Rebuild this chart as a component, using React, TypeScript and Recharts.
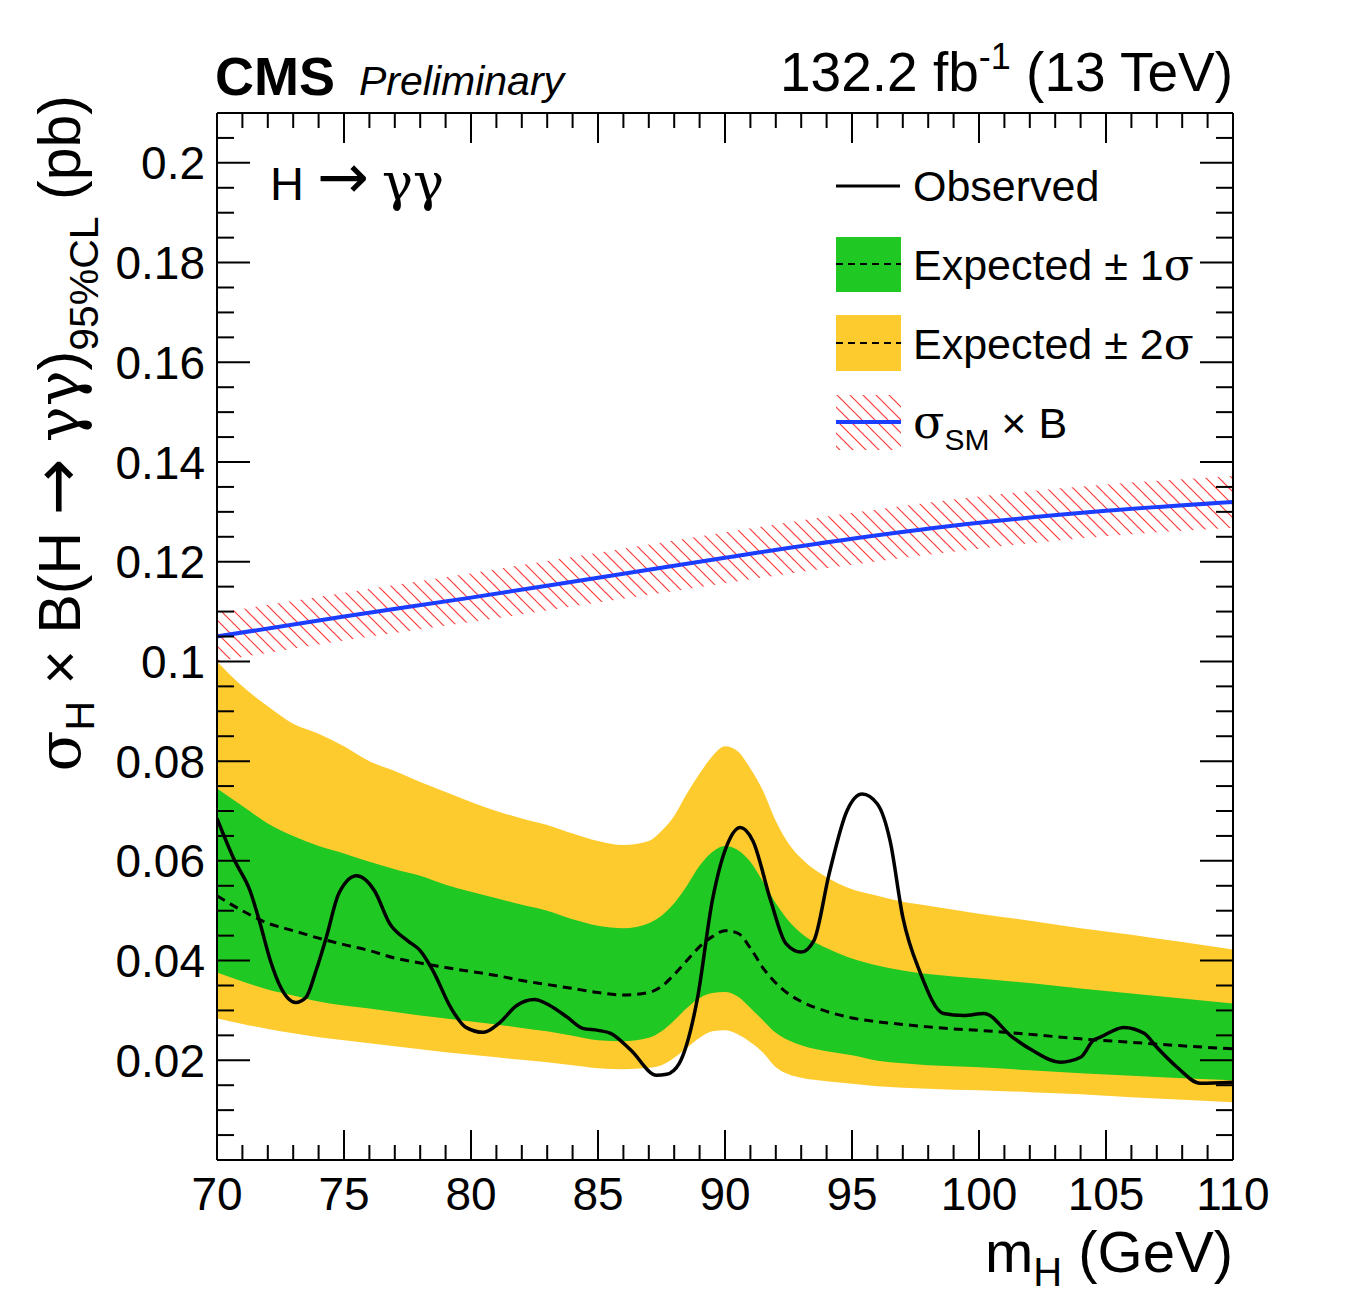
import React from 'react';
import { ComposedChart, Area, Line, XAxis, YAxis } from 'recharts';

// ---------- data ----------
const massGrid = [70, 71, 72, 73, 74, 75, 76, 77, 78, 79, 80, 81, 82, 83, 84, 85, 86, 87, 87.5, 88, 88.5, 89, 89.5, 90, 90.5, 91, 91.5, 92, 92.5, 93, 94, 95, 96, 97, 98, 99, 100, 102, 104, 106, 108, 110];
const expMedian = [0.053, 0.05, 0.0475, 0.046, 0.0445, 0.0432, 0.042, 0.0405, 0.0395, 0.0386, 0.0378, 0.037, 0.036, 0.0352, 0.0344, 0.0336, 0.0331, 0.0336, 0.0348, 0.0372, 0.04, 0.0428, 0.0448, 0.046, 0.0455, 0.0425, 0.0385, 0.0355, 0.0333, 0.0318, 0.0298, 0.0285, 0.0277, 0.0272, 0.0267, 0.0263, 0.026, 0.0252, 0.0243, 0.0236, 0.0229, 0.0223];
const exp1sUp = [0.0745, 0.071, 0.0675, 0.065, 0.063, 0.0615, 0.0598, 0.0583, 0.057, 0.0552, 0.0538, 0.0525, 0.0512, 0.05, 0.0483, 0.047, 0.0465, 0.0475, 0.049, 0.0515, 0.055, 0.059, 0.0618, 0.063, 0.0622, 0.0598, 0.0558, 0.0515, 0.048, 0.0455, 0.0425, 0.0404, 0.039, 0.038, 0.0373, 0.0368, 0.0364, 0.0355, 0.0344, 0.0334, 0.0324, 0.0314];
const exp1sDown = [0.0376, 0.0358, 0.0342, 0.033, 0.0318, 0.031, 0.0304, 0.0297, 0.029, 0.0284, 0.0278, 0.0272, 0.0265, 0.0258, 0.0249, 0.024, 0.0238, 0.0245, 0.0258, 0.028, 0.0305, 0.0325, 0.0335, 0.0337, 0.0328, 0.0305, 0.028, 0.0255, 0.024, 0.023, 0.0218, 0.021, 0.0199, 0.0194, 0.019, 0.0188, 0.0186, 0.018, 0.0174, 0.0169, 0.0164, 0.016];
const exp2sUp = [0.1, 0.095, 0.091, 0.0875, 0.0855, 0.083, 0.08, 0.078, 0.0758, 0.0738, 0.0718, 0.07, 0.0685, 0.0672, 0.0655, 0.064, 0.0632, 0.064, 0.066, 0.069, 0.0735, 0.0775, 0.081, 0.083, 0.082, 0.0785, 0.074, 0.068, 0.0635, 0.0605, 0.0567, 0.0543, 0.053, 0.0518, 0.051, 0.0502, 0.0494, 0.048, 0.0465, 0.0452, 0.0437, 0.0422];
const exp2sDown = [0.0284, 0.0273, 0.0263, 0.0254, 0.0246, 0.024, 0.0234, 0.0228, 0.0222, 0.0216, 0.0211, 0.0206, 0.0201, 0.0196, 0.019, 0.0184, 0.0182, 0.0185, 0.019, 0.0205, 0.0225, 0.0245, 0.0258, 0.026, 0.0252, 0.0236, 0.0215, 0.0186, 0.0172, 0.0165, 0.0158, 0.0153, 0.0148, 0.0145, 0.0143, 0.0141, 0.014, 0.0136, 0.0132, 0.0126, 0.0121, 0.0116];

const obsMass = [70, 70.7, 71.3, 71.7, 72.1, 72.5, 73.1, 73.5, 73.9, 74.3, 74.8, 75.5, 76.2, 76.8, 77.5, 78, 78.5, 79.2, 79.8, 80.5, 81.1, 81.8, 82.5, 83.1, 83.8, 84.4, 85, 85.5, 86.3, 87.3, 87.7, 88.2, 88.9, 89.5, 90.1, 90.6, 91.1, 91.8, 92.4, 93, 93.5, 94.1, 94.8, 95.4, 96, 96.5, 97, 97.7, 98.6, 99.4, 100.2, 101.3, 102.1, 103.2, 104, 104.5, 104.8, 105.7, 106.5, 107, 107.8, 108.7, 110];
const obsLimit = [0.0685, 0.06, 0.054, 0.0474, 0.04, 0.0347, 0.0316, 0.0326, 0.038, 0.0446, 0.0535, 0.057, 0.054, 0.0474, 0.044, 0.042, 0.038, 0.0306, 0.0266, 0.0256, 0.0274, 0.031, 0.0322, 0.031, 0.0286, 0.0264, 0.026, 0.0254, 0.022, 0.017, 0.0172, 0.0194, 0.032, 0.052, 0.0634, 0.0667, 0.064, 0.052, 0.0434, 0.0417, 0.044, 0.0574, 0.07, 0.0734, 0.0714, 0.064, 0.0487, 0.0374, 0.0294, 0.029, 0.0294, 0.0247, 0.022, 0.0196, 0.0206, 0.024, 0.0247, 0.0266, 0.0254, 0.0226, 0.0186, 0.0154, 0.0156];

const smMass = [70, 75, 80, 85, 90, 95, 100, 105, 110];
const smXsec = [0.105, 0.109, 0.1128, 0.1168, 0.1208, 0.1246, 0.1278, 0.1302, 0.132];
const smDown = [0.1, 0.1042, 0.1079, 0.1118, 0.1157, 0.1194, 0.1226, 0.1251, 0.1268];
const smUp = [0.1097, 0.1138, 0.1177, 0.1218, 0.1259, 0.1298, 0.1331, 0.1355, 0.1372];

const xMajorTicks = [70, 75, 80, 85, 90, 95, 100, 105, 110];
const xTickLabels = ['70', '75', '80', '85', '90', '95', '100', '105', '110'];
const yMajorTicks = [0.02, 0.04, 0.06, 0.08, 0.1, 0.12, 0.14, 0.16, 0.18, 0.2];
const yTickLabels = ['0.02', '0.04', '0.06', '0.08', '0.1', '0.12', '0.14', '0.16', '0.18', '0.2'];

const xAllTicks = Array.from({ length: 41 }, (_, i) => 70 + i);
const yAllTicks = Array.from({ length: 43 }, (_, i) => Math.round(i * 5) / 1000);

// tables built from the arrays
const bandTable = massGrid.map((m, i) => ({
  m,
  exp: expMedian[i],
  band1: [exp1sDown[i], exp1sUp[i]],
  band2: [exp2sDown[i], exp2sUp[i]],
}));
const obsTable = obsMass.map((m, i) => ({ m, obs: obsLimit[i] }));
const smTable = smMass.map((m, i) => ({ m, sm: smXsec[i], smBand: [smDown[i], smUp[i]] }));

// ---------- styles ----------
const SANS = '"Liberation Sans", Arial, Helvetica, sans-serif';
const GREEK = '"DejaVu Serif", "Liberation Serif", serif';
const ARROW = '"DejaVu Sans", sans-serif';
const GREEN = '#20C823';
const YELLOW = '#FECB2F';
const BLUE = '#1A3DFF';
const TICK_FONT = 46;

const W = 1356;
const H = 1300;

const findLabel = (v: number, majors: number[], labels: string[]) => {
  for (let i = 0; i < majors.length; i++) {
    if (Math.abs(majors[i] - v) < 1e-7) return labels[i];
  }
  return null;
};

const BottomTick = (props: any) => {
  const { x, y, payload } = props;
  const lab = findLabel(payload.value, xMajorTicks, xTickLabels);
  return (
    <g>
      <line x1={x} y1={y} x2={x} y2={y - (lab ? 30 : 15)} stroke="#000" strokeWidth={2} />
      {lab && (
        <text x={x} y={y + 50} textAnchor="middle" fontSize={TICK_FONT} fontFamily={SANS} fill="#000">
          {lab}
        </text>
      )}
    </g>
  );
};

const TopTick = (props: any) => {
  const { x, y, payload } = props;
  const lab = findLabel(payload.value, xMajorTicks, xTickLabels);
  return <line x1={x} y1={y} x2={x} y2={y + (lab ? 30 : 15)} stroke="#000" strokeWidth={2} />;
};

const LeftTick = (props: any) => {
  const { x, y, payload } = props;
  const lab = findLabel(payload.value, yMajorTicks, yTickLabels);
  return (
    <g>
      <line x1={x} y1={y} x2={x + (lab ? 33 : 17)} y2={y} stroke="#000" strokeWidth={2} />
      {lab && (
        <text x={x - 12} y={y} dy="0.36em" textAnchor="end" fontSize={TICK_FONT} fontFamily={SANS} fill="#000">
          {lab}
        </text>
      )}
    </g>
  );
};

const RightTick = (props: any) => {
  const { x, y, payload } = props;
  const lab = findLabel(payload.value, yMajorTicks, yTickLabels);
  return <line x1={x} y1={y} x2={x - (lab ? 33 : 17)} y2={y} stroke="#000" strokeWidth={2} />;
};

export default function App() {
  return (
    <div style={{ position: 'relative', width: W, height: H, background: '#fff' }}>
      <svg width={0} height={0} style={{ position: 'absolute' }}>
        <defs>
          <pattern id="smHatch" patternUnits="userSpaceOnUse" width={13} height={13}>
            <line x1={0} y1={0} x2={13} y2={13} stroke="#FF3A3A" strokeWidth={1.2} />
            <line x1={-2} y1={11} x2={2} y2={15} stroke="#FF3A3A" strokeWidth={1.2} />
            <line x1={11} y1={-2} x2={15} y2={2} stroke="#FF3A3A" strokeWidth={1.2} />
          </pattern>
        </defs>
      </svg>
      <ComposedChart
        width={W}
        height={H}
        data={bandTable}
        margin={{ top: 104, right: 130, bottom: 147, left: 208 }}
      >
        <Area
          data={bandTable}
          dataKey="band2"
          type="monotone"
          stroke="none"
          fill={YELLOW}
          fillOpacity={1}
          isAnimationActive={false}
          dot={false}
          activeDot={false}
        />
        <Area
          data={bandTable}
          dataKey="band1"
          type="monotone"
          stroke="none"
          fill={GREEN}
          fillOpacity={1}
          isAnimationActive={false}
          dot={false}
          activeDot={false}
        />
        <Area
          data={smTable}
          dataKey="smBand"
          type="monotone"
          stroke="none"
          fill="url(#smHatch)"
          fillOpacity={1}
          isAnimationActive={false}
          dot={false}
          activeDot={false}
        />
        <Line
          data={bandTable}
          dataKey="exp"
          type="monotone"
          stroke="#000"
          strokeWidth={3}
          strokeDasharray="9 6"
          dot={false}
          activeDot={false}
          isAnimationActive={false}
        />
        <Line
          data={smTable}
          dataKey="sm"
          type="monotone"
          stroke={BLUE}
          strokeWidth={4}
          dot={false}
          activeDot={false}
          isAnimationActive={false}
        />
        <Line
          data={obsTable}
          dataKey="obs"
          type="monotone"
          stroke="#000"
          strokeWidth={3.5}
          dot={false}
          activeDot={false}
          isAnimationActive={false}
        />
        <XAxis
          dataKey="m"
          type="number"
          domain={[70, 110]}
          allowDataOverflow
          ticks={xAllTicks}
          interval={0}
          tickSize={0}
          tickMargin={0}
          height={1}
          tick={<BottomTick />}
          tickLine={false}
          axisLine={{ stroke: '#000', strokeWidth: 2 }}
        />
        <XAxis
          xAxisId="top"
          orientation="top"
          dataKey="m"
          type="number"
          domain={[70, 110]}
          allowDataOverflow
          ticks={xAllTicks}
          interval={0}
          tickSize={0}
          tickMargin={0}
          height={1}
          tick={<TopTick />}
          tickLine={false}
          axisLine={{ stroke: '#000', strokeWidth: 2 }}
        />
        <YAxis
          type="number"
          domain={[0, 0.21]}
          allowDataOverflow
          ticks={yAllTicks}
          interval={0}
          tickSize={0}
          tickMargin={0}
          width={1}
          tick={<LeftTick />}
          tickLine={false}
          axisLine={{ stroke: '#000', strokeWidth: 2 }}
        />
        <YAxis
          yAxisId="right"
          orientation="right"
          type="number"
          domain={[0, 0.21]}
          allowDataOverflow
          ticks={yAllTicks}
          interval={0}
          tickSize={0}
          tickMargin={0}
          width={1}
          tick={<RightTick />}
          tickLine={false}
          axisLine={{ stroke: '#000', strokeWidth: 2 }}
        />
      </ComposedChart>
      <svg
        width={W}
        height={H}
        style={{ position: 'absolute', left: 0, top: 0, pointerEvents: 'none' }}
      >
        {/* header */}
        <text x={207} y={87} fontFamily={SANS} fontWeight="bold" fontSize={54} fill="#000">CMS</text>
        <text x={351} y={87} fontFamily={SANS} fontStyle="italic" fontSize={41} fill="#000">Preliminary</text>
        <text x={1225} y={83} textAnchor="end" fontFamily={SANS} fontSize={55} fill="#000">
          132.2 fb<tspan dy={-22} fontSize={36}>-1</tspan>
          <tspan dy={22}> (13 TeV)</tspan>
        </text>
        {/* channel */}
        <text x={262} y={192} fontFamily={SANS} fontSize={47} fill="#000">
          H <tspan fontFamily={ARROW} fontSize={62} dy={-2}>→</tspan>
          <tspan dy={2}> </tspan>
          <tspan fontFamily={GREEK} fontSize={52}>γγ</tspan>
        </text>
        {/* x title */}
        <text x={1225} y={1264} textAnchor="end" fontFamily={SANS} fontSize={58} fill="#000">
          m<tspan dy={14} fontSize={40}>H</tspan>
          <tspan dy={-14}> (GeV)</tspan>
        </text>
        {/* y title */}
        <text
          x={0}
          y={0}
          transform="translate(72, 87) rotate(-90)"
          textAnchor="end"
          fontFamily={SANS}
          fontSize={59}
          fill="#000"
        >
          <tspan fontFamily={GREEK} fontSize={60}>σ</tspan>
          <tspan dy={14} fontSize={41}>H</tspan>
          <tspan dy={-14}> × B(H </tspan>
          <tspan fontFamily={ARROW} fontSize={68}>→</tspan>
          <tspan> </tspan>
          <tspan fontFamily={GREEK} fontSize={60}>γγ</tspan>
          <tspan>)</tspan>
          <tspan dy={18} fontSize={41}>95%CL</tspan>
          <tspan dy={-18}> (pb)</tspan>
        </text>
        {/* legend */}
        <line x1={828} y1={178} x2={892} y2={178} stroke="#000" strokeWidth={3} />
        <text x={905} y={193} fontFamily={SANS} fontSize={43} fill="#000">Observed</text>

        <rect x={828} y={229} width={65} height={55} fill={GREEN} />
        <line x1={828} y1={256} x2={893} y2={256} stroke="#000" strokeWidth={2} strokeDasharray="7 5" />
        <text x={905} y={272} fontFamily={SANS} fontSize={43} fill="#000">
          Expected ± 1<tspan fontFamily={GREEK} fontSize={44}>σ</tspan>
        </text>

        <rect x={828} y={307} width={65} height={56} fill={YELLOW} />
        <line x1={828} y1={335} x2={893} y2={335} stroke="#000" strokeWidth={2} strokeDasharray="7 5" />
        <text x={905} y={351} fontFamily={SANS} fontSize={43} fill="#000">
          Expected ± 2<tspan fontFamily={GREEK} fontSize={44}>σ</tspan>
        </text>

        <rect x={828} y={387} width={65} height={55} fill="url(#smHatch)" />
        <line x1={828} y1={414} x2={893} y2={414} stroke={BLUE} strokeWidth={4} />
        <text x={905} y={430} fontFamily={SANS} fontSize={43} fill="#000">
          <tspan fontFamily={GREEK} fontSize={46}>σ</tspan>
          <tspan dy={12} fontSize={30}>SM</tspan>
          <tspan dy={-12}> × B</tspan>
        </text>
      </svg>
    </div>
  );
}
